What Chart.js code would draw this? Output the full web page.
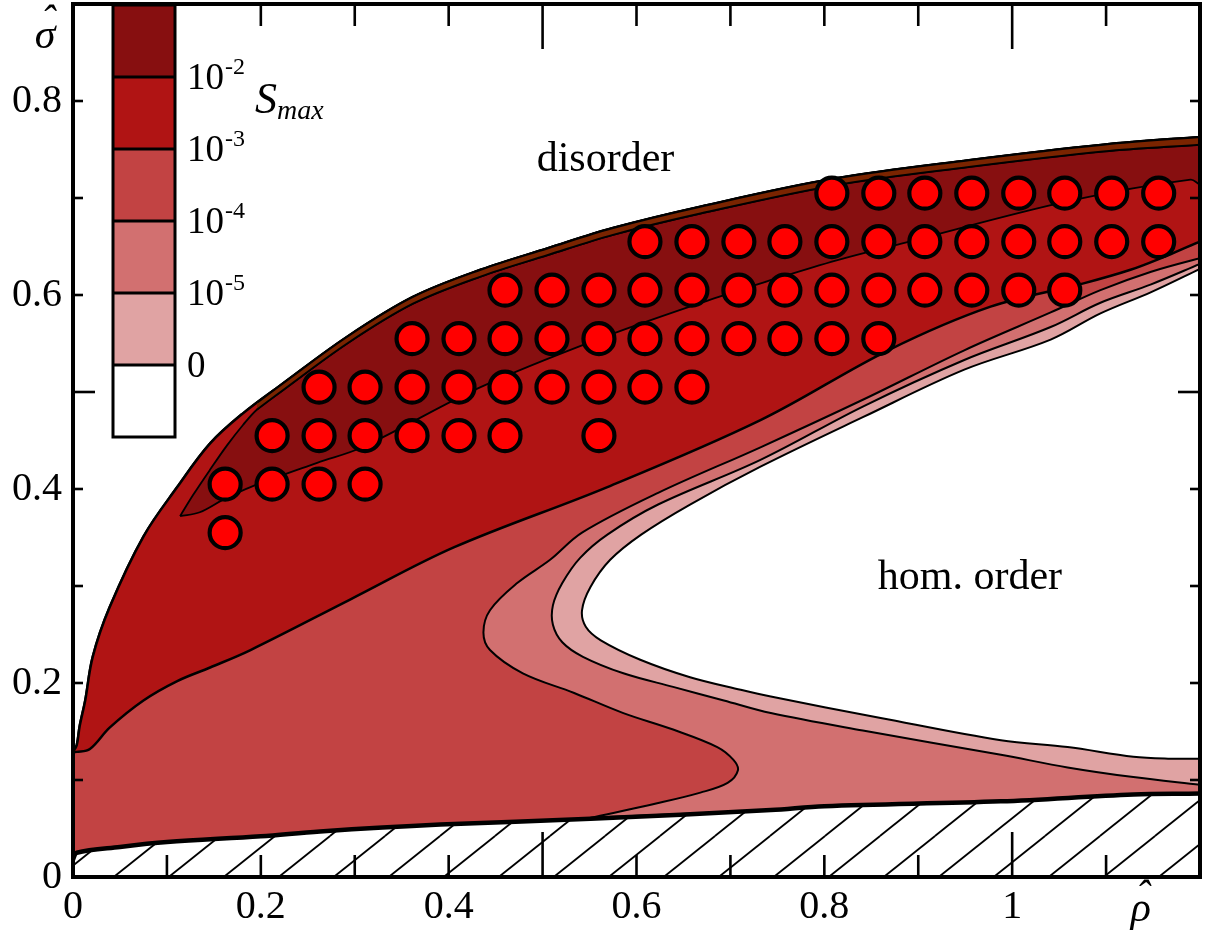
<!DOCTYPE html>
<html>
<head>
<meta charset="utf-8">
<script src="https://cdn.jsdelivr.net/npm/chart.js@4.4.1/dist/chart.umd.min.js"></script>
<style>
html,body{margin:0;padding:0;background:#fff;}
#wrap{width:1209px;height:930px;position:relative;}
</style>
</head>
<body>
<div id="wrap"><canvas id="c"></canvas></div>
<script>
// ---------------- data (contours continue a little past the right edge) ----------------
const lowerBoundary = [[0,0.018],[0.004,0.025],[0.05,0.031],[0.1,0.036],[0.2,0.042],[0.263,0.047],[0.391,0.054],[0.551,0.060],[0.743,0.069],[0.8,0.073],[0.988,0.078],[1.129,0.085],[1.2,0.086],[1.23,0.087]];
const outerBoundary = [[0,0.129],[0.004,0.136],[0.007,0.155],[0.013,0.182],[0.021,0.227],[0.039,0.278],[0.075,0.351],[0.111,0.402],[0.146,0.447],[0.181,0.478],[0.221,0.507],[0.292,0.557],[0.362,0.598],[0.434,0.626],[0.505,0.648],[0.575,0.669],[0.668,0.691],[0.811,0.720],[0.954,0.739],[1.097,0.755],[1.2,0.763],[1.23,0.765]];
const stripeLower = [[0.196,0.482],[0.221,0.500],[0.292,0.550],[0.362,0.591],[0.434,0.619],[0.505,0.641],[0.575,0.662],[0.668,0.684],[0.811,0.713],[0.954,0.732],[1.097,0.748],[1.2,0.755],[1.23,0.757]];
const darkUpper = [[0.114,0.372],[0.128,0.394],[0.146,0.420],[0.164,0.445],[0.181,0.466],[0.196,0.482]];
const contour2 = [[0.114,0.372],[0.135,0.376],[0.160,0.389],[0.189,0.402],[0.260,0.427],[0.308,0.443],[0.434,0.505],[0.558,0.554],[0.678,0.595],[0.739,0.614],[0.814,0.636],[0.882,0.653],[1.061,0.697],[1.190,0.719],[1.2,0.714],[1.23,0.708]];
const contour3 = [[0,0.129],[0.004,0.129],[0.018,0.132],[0.039,0.154],[0.075,0.182],[0.111,0.202],[0.146,0.216],[0.189,0.234],[0.295,0.286],[0.406,0.340],[0.569,0.402],[0.732,0.471],[0.868,0.543],[0.977,0.588],[1.076,0.612],[1.126,0.626],[1.161,0.639],[1.2,0.655],[1.23,0.665]];
const contour4 = [[1.23,0.645],[1.2,0.638],[1.148,0.624],[1.094,0.605],[1.041,0.582],[0.949,0.543],[0.841,0.492],[0.732,0.443],[0.623,0.396],[0.542,0.355],[0.508,0.327],[0.473,0.303],[0.444,0.275],[0.437,0.252],[0.444,0.234],[0.479,0.210],[0.533,0.190],[0.586,0.169],[0.639,0.152],[0.686,0.134],[0.703,0.121],[0.708,0.110],[0.697,0.097],[0.668,0.087],[0.622,0.076],[0.551,0.061]];
const contour5 = [[1.2,0.632],[1.148,0.611],[1.094,0.592],[1.041,0.567],[0.949,0.533],[0.841,0.485],[0.732,0.430],[0.623,0.384],[0.569,0.353],[0.540,0.329],[0.521,0.303],[0.511,0.280],[0.511,0.260],[0.521,0.242],[0.543,0.227],[0.586,0.210],[0.639,0.196],[0.693,0.182],[0.743,0.169],[0.841,0.151],[0.988,0.126],[1.059,0.113],[1.129,0.103],[1.2,0.095]];
const contour0 = [[1.2,0.627],[1.148,0.603],[1.094,0.581],[1.041,0.554],[0.949,0.523],[0.841,0.474],[0.732,0.423],[0.657,0.384],[0.605,0.353],[0.572,0.327],[0.551,0.299],[0.542,0.275],[0.546,0.258],[0.562,0.244],[0.604,0.224],[0.657,0.206],[0.711,0.193],[0.743,0.186],[0.860,0.164],[0.988,0.141],[1.059,0.134],[1.129,0.124],[1.166,0.122],[1.2,0.122]];

const markerRowsY = [0.355, 0.405, 0.455, 0.505, 0.555, 0.605, 0.655, 0.705];
const markerRowsX = [
  [0.162],
  [0.162,0.212,0.262,0.311],
  [0.212,0.262,0.311,0.361,0.411,0.460,0.560],
  [0.262,0.311,0.361,0.411,0.460,0.510,0.560,0.609,0.659],
  [0.361,0.411,0.460,0.510,0.560,0.609,0.659,0.709,0.758,0.808,0.858],
  [0.460,0.510,0.560,0.609,0.659,0.709,0.758,0.808,0.858,0.907,0.957,1.007,1.056],
  [0.609,0.659,0.709,0.758,0.808,0.858,0.907,0.957,1.007,1.056,1.106,1.156],
  [0.808,0.858,0.907,0.957,1.007,1.056,1.106,1.156]
];

const levelColors = ['#870F10','#B01414','#C24343','#D27070','#E0A3A3','#FFFFFF'];
const levelLabels = [['10','-2'],['10','-3'],['10','-4'],['10','-5'],['0','']];
const stripeColor = '#7A2400';
const markerColor = '#FF0000';

const xLabelValues = [0, 0.2, 0.4, 0.6, 0.8, 1.0];
const xLabelTexts  = ['0','0.2','0.4','0.6','0.8','1'];
const yLabelValues = [0, 0.2, 0.4, 0.6, 0.8];
const yLabelTexts  = ['0','0.2','0.4','0.6','0.8'];
const longTickValuesX = [0.5, 1.0];
const longTickValuesY = [0.5];

const regionNotes = [{text:'disorder', x:0.567, y:0.739}, {text:'hom. order', x:0.955, y:0.308}];
const axisSymbols = {x:{text:'\u03C1', v:1.137}, y:{text:'\u03C3', v:0.866}};

// ---------------- helpers ----------------
const pts = arr => arr.map(p => ({x:p[0], y:p[1]}));
const rev = arr => arr.slice().reverse();

function makeHatch(){
  const w = 55, h = 44;
  const c = document.createElement('canvas'); c.width = w; c.height = h;
  const g = c.getContext('2d');
  g.fillStyle = '#fff'; g.fillRect(0, 0, w, h);
  g.strokeStyle = '#000'; g.lineWidth = 1.8;
  for (const dx of [-w,0,w]) for (const dy of [-h,0,h]) {
    g.beginPath(); g.moveTo(dx, h+dy); g.lineTo(dx+w, dy); g.stroke();
  }
  return g.createPattern(c, 'repeat');
}

const polyA = pts(lowerBoundary.concat(rev(outerBoundary)));
const polyB = pts(outerBoundary.concat(rev(contour3)));
const polyDark = pts(darkUpper.concat(stripeLower.slice(1), rev(contour2)));
const polyStripe = pts(stripeLower.concat(rev(outerBoundary.filter(p => p[0] > 0.2)), [[0.196,0.489]]));
const joinPoint = contour4[contour4.length - 1];
const polyD = pts([joinPoint].concat(lowerBoundary.filter(p => p[0] > 0.56), contour4));
const polyE = pts(contour5);
const polyF = pts(contour0);

const markers = [];
markerRowsY.forEach((yv, i) => markerRowsX[i].forEach(xv => markers.push({x:xv, y:yv})));

function shape(data, color, bw, order){
  return {data, showLine:true, fill:'shape', backgroundColor:color, borderColor:'#000',
          borderWidth:bw, pointRadius:0, pointHoverRadius:0, tension:0.35, order, clip:0};
}

const serif = '"Liberation Serif", "Times New Roman", serif';

const deco = {
  id:'deco',
  afterDatasetsDraw(chart){
    const {ctx, chartArea:a, scales:{x, y}} = chart;
    ctx.save();
    ctx.strokeStyle = '#000';
    ctx.lineWidth = 2.6;
    ctx.lineCap = 'butt';
    const seg = (x1,y1,x2,y2) => {ctx.beginPath(); ctx.moveTo(x1,y1); ctx.lineTo(x2,y2); ctx.stroke();};
    const isIn = (v, list) => list.some(l => Math.abs(l - v) < 1e-6);
    for (const t of x.ticks) {
      const v = t.value;
      if (v < 1e-6 || v > 1.2 - 1e-6) continue;
      const px = x.getPixelForValue(v);
      const L = isIn(v, longTickValuesX) ? 45 : 22;
      seg(px, a.bottom, px, a.bottom - L);
      seg(px, a.top, px, a.top + L);
    }
    for (const t of y.ticks) {
      const v = t.value;
      if (v < 1e-6 || v > 0.9 - 1e-6) continue;
      const py = y.getPixelForValue(v);
      const L = isIn(v, longTickValuesY) ? 22 : 10;
      seg(a.left, py, a.left + L, py);
      seg(a.right, py, a.right - L, py);
    }
    // colour bar legend
    const cbL = a.left + 40, cbW = 62, cbT = a.top + 1, bandH = 72;
    levelColors.forEach((col, i) => {
      ctx.fillStyle = col;
      ctx.fillRect(cbL, cbT + i*bandH, cbW, bandH);
    });
    ctx.lineWidth = 3;
    ctx.strokeRect(cbL, cbT, cbW, bandH*levelColors.length);
    for (let i = 1; i < levelColors.length; i++) seg(cbL, cbT + i*bandH, cbL + cbW, cbT + i*bandH);
    ctx.fillStyle = '#000';
    ctx.textBaseline = 'alphabetic';
    ctx.textAlign = 'left';
    levelLabels.forEach((lb, i) => {
      const by = cbT + (i+1)*bandH;
      ctx.font = '37px ' + serif;
      const base = by + 12;
      ctx.fillText(lb[0], cbL + cbW + 12, base);
      const w = ctx.measureText(lb[0]).width;
      if (lb[1]) { ctx.font = '24px ' + serif; ctx.fillText(lb[1], cbL + cbW + 12 + w + 1, base - 15); }
    });
    ctx.font = 'italic 44px ' + serif;
    ctx.fillText('S', cbL + cbW + 80, cbT + 108);
    const sw = ctx.measureText('S').width;
    ctx.font = 'italic 28px ' + serif;
    ctx.fillText('max', cbL + cbW + 80 + sw, cbT + 114);

    // region annotations
    ctx.font = '42px ' + serif;
    ctx.textAlign = 'center';
    ctx.textBaseline = 'middle';
    regionNotes.forEach(n => ctx.fillText(n.text, x.getPixelForValue(n.x), y.getPixelForValue(n.y)));

    // axis symbols with hats
    ctx.font = 'italic 42px ' + serif;
    const rx = x.getPixelForValue(axisSymbols.x.v), ry = a.bottom + 33;
    ctx.fillText(axisSymbols.x.text, rx, ry);
    ctx.fillText('\u02C6', rx + 2, ry - 12);
    const sx = a.left - 28, sy = y.getPixelForValue(axisSymbols.y.v);
    ctx.fillText(axisSymbols.y.text, sx, sy);
    ctx.fillText('\u02C6', sx + 3, sy - 14);

    // frame
    ctx.lineWidth = 4;
    ctx.strokeRect(a.left, a.top, a.right - a.left, a.bottom - a.top);
    ctx.restore();
  }
};

const labelFor = (v, vals, texts) => {
  const i = vals.findIndex(q => Math.abs(q - v) < 1e-6);
  return i >= 0 ? texts[i] : '';
};

new Chart(document.getElementById('c'), {
  type:'scatter',
  data:{datasets:[
    {data:markers, showLine:false, pointRadius:15.5, pointHoverRadius:15.5, pointBackgroundColor:markerColor,
     pointBorderColor:'#000', pointBorderWidth:4.2, pointHoverBorderWidth:4.2, order:0, clip:false},
    {data:pts(lowerBoundary), showLine:true, fill:'start', backgroundColor:makeHatch(), borderColor:'#000',
     borderWidth:4.5, pointRadius:0, pointHoverRadius:0, tension:0.35, order:1, clip:0},
    shape(polyF, levelColors[5], 2, 2),
    shape(polyE, levelColors[4], 2, 3),
    shape(polyD, levelColors[3], 2, 4),
    shape(polyStripe, stripeColor, 2, 5),
    shape(polyDark, levelColors[0], 1.8, 6),
    shape(polyB, levelColors[1], 2.5, 7),
    shape(polyA, levelColors[2], 2.5, 8)
  ]},
  options:{
    responsive:true, maintainAspectRatio:false, animation:false, events:[],
    layout:{padding:{top:4, right:9, left:0, bottom:0}, autoPadding:false},
    elements:{line:{capBezierPoints:false}},
    plugins:{legend:{display:false}, tooltip:{enabled:false}},
    scales:{
      x:{type:'linear', min:0, max:1.2,
         grid:{display:false, drawTicks:false}, border:{display:false},
         ticks:{stepSize:0.1, autoSkip:false, maxRotation:0, padding:6, color:'#000',
                font:{family:serif, size:40},
                callback:v => labelFor(v, xLabelValues, xLabelTexts)},
         afterFit:s => {s.height = 53; s.paddingLeft = 0; s.paddingRight = 0;}},
      y:{type:'linear', min:0, max:0.9,
         grid:{display:false, drawTicks:false}, border:{display:false},
         ticks:{stepSize:0.1, autoSkip:false, padding:11, color:'#000',
                font:{family:serif, size:40},
                callback:v => labelFor(v, yLabelValues, yLabelTexts)},
         afterFit:s => {s.width = 73; s.paddingTop = 0; s.paddingBottom = 0;}}
    }
  },
  plugins:[deco]
});
</script>
</body>
</html>
